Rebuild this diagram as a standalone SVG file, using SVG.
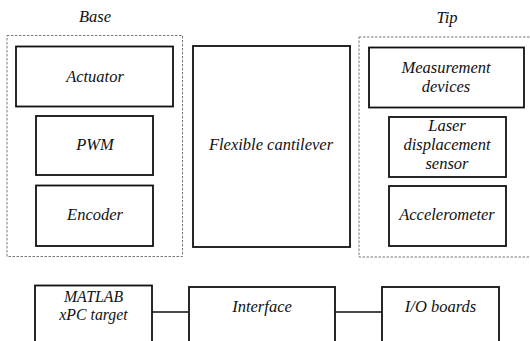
<svg xmlns="http://www.w3.org/2000/svg" width="530" height="341" viewBox="0 0 530 341">
  <style>
    .grp { fill: none; stroke: #777; stroke-width: 1; stroke-dasharray: 2.5 1.5; }
    .box { fill: #fff; stroke: #111; stroke-width: 1.8; }
    .wire { fill: none; stroke: #111; stroke-width: 1.6; }
    text { font-family: "Liberation Serif", "Times New Roman", serif; font-style: italic; font-size: 16.5px; fill: #111; text-anchor: middle; }
    .small { font-size: 15.8px; }
  </style>
  <rect width="530" height="341" fill="#fff"/>

  <!-- group frames -->
  <g id="base">
    <rect class="grp" x="7" y="35.5" width="175.5" height="221"/>
    <text x="95" y="22">Base</text>
  </g>
  <g id="tip">
    <rect class="grp" x="359" y="37" width="175" height="220"/>
    <text x="447" y="23">Tip</text>
  </g>

  <!-- base components -->
  <g id="actuator">
    <rect class="box" x="16" y="46.5" width="157" height="60"/>
    <text x="95" y="82">Actuator</text>
  </g>
  <g id="pwm">
    <rect class="box" x="36" y="116" width="117" height="59"/>
    <text x="95" y="150">PWM</text>
  </g>
  <g id="encoder">
    <rect class="box" x="36" y="185.5" width="117" height="60.5"/>
    <text x="95" y="220">Encoder</text>
  </g>

  <!-- beam -->
  <g id="cantilever">
    <rect class="box" x="193" y="46" width="157" height="201"/>
    <text x="271" y="150">Flexible cantilever</text>
  </g>

  <!-- tip components -->
  <g id="measurement">
    <rect class="box" x="369" y="47.5" width="155" height="60"/>
    <text x="446" y="73">Measurement</text>
    <text x="446" y="92">devices</text>
  </g>
  <g id="laser">
    <rect class="box" x="389" y="117" width="117" height="60"/>
    <text x="447" y="131">Laser</text>
    <text x="447" y="150">displacement</text>
    <text x="447" y="169">sensor</text>
  </g>
  <g id="accelerometer">
    <rect class="box" x="389" y="186" width="117" height="60"/>
    <text x="447" y="220">Accelerometer</text>
  </g>

  <!-- bottom chain -->
  <g id="connectors">
    <line class="wire" x1="152" y1="312" x2="189" y2="312"/>
    <line class="wire" x1="335" y1="312" x2="382" y2="312"/>
  </g>
  <g id="matlab">
    <rect class="box" x="35" y="285.5" width="117" height="70"/>
    <text class="small" x="93.5" y="302">MATLAB</text>
    <text class="small" x="93.5" y="320">xPC target</text>
  </g>
  <g id="interface">
    <rect class="box" x="189" y="287" width="146" height="70"/>
    <text x="262" y="312">Interface</text>
  </g>
  <g id="io">
    <rect class="box" x="382" y="287" width="117" height="70"/>
    <text x="440.5" y="312">I/O boards</text>
  </g>
</svg>
